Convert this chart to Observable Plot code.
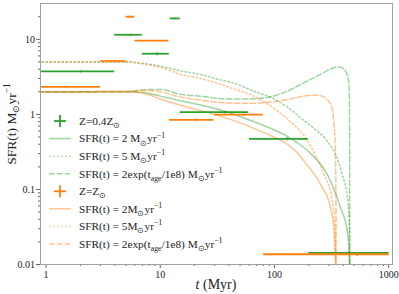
<!DOCTYPE html>
<html><head><meta charset="utf-8">
<script src="https://cdn.jsdelivr.net/npm/d3@7"></script>
<script src="https://cdn.jsdelivr.net/npm/@observablehq/plot@0.6"></script>
<style>body{margin:0;background:#fff}</style>
</head><body><div id="chart"></div>
<script>
// ---- axis ticks ----
const xMajor = [1, 10, 100, 1000];
const xTickLabels = ["1", "10", "100", "1000"];
const xMinor = [2,3,4,5,6,7,8,9,20,30,40,50,60,70,80,90,200,300,400,500,600,700,800,900];
const yMajor = [0.01, 0.1, 1, 10];
const yTickLabels = ["0.01", "0.1", "1", "10"];
const yMinor = [0.02,0.03,0.04,0.05,0.06,0.07,0.08,0.09,0.2,0.3,0.4,0.5,0.6,0.7,0.8,0.9,2,3,4,5,6,7,8,9,20];

// ---- error-bar data: Z = 0.4 Zsun (green) ----
const greenX    = [2.0, 5.46, 9.4, 13.4, 36.9, 128.6, 450];
const greenXmin = [0.85, 3.95, 6.9, 12.1, 14.8, 59.9, 198];
const greenXmax = [3.95, 6.9, 11.9, 14.8, 59, 196, 1000];
const greenY    = [3.74, 11.5, 6.43, 19.0, 1.07, 0.473, 0.0143];
const greenYerr = [0.12, 0.4, 0.3, 0.6, 0.045, 0.022, 0.0007];

// ---- error-bar data: Z = Zsun (orange) ----
const orangeX    = [1.49, 3.95, 8.4, 5.42, 20.8, 54, 531];
const orangeXmin = [0.85, 2.98, 5.96, 4.97, 11.95, 29.6, 79.4];
const orangeXmax = [2.97, 4.93, 11.8, 5.93, 29.2, 78.9, 1000];
const orangeY    = [2.33, 5.14, 9.58, 20.0, 0.847, 0.99, 0.0137];
const orangeYerr = [0.09, 0.0, 0.0, 0.8, 0.035, 0.04, 0.0007];

// ---- model curves (t in Myr, SFR) ----
const gSolidT = [0.85, 5, 7, 10, 15, 22.6, 36, 66, 93, 121, 158, 208, 290, 379, 434, 450, 457];
const gSolidS = [2, 2, 1.96, 1.75, 1.52, 1.33, 1.11, 0.8, 0.65, 0.54, 0.42, 0.3, 0.158, 0.057, 0.028, 0.015, 0.005];
const gDotT = [0.85, 5, 7, 10, 15, 22.6, 34, 41, 66, 93, 130, 169, 230, 290, 350, 392, 439, 452, 457];
const gDotS = [5, 5, 4.8, 4.4, 3.8, 3.4, 2.87, 2.7, 2.04, 1.67, 1.25, 0.9, 0.62, 0.44, 0.27, 0.158, 0.07, 0.034, 0.005];
const gDashT = [0.85, 5, 7, 10, 15, 22.6, 34, 50, 66, 93, 130, 181, 253, 331, 366, 400, 419, 440, 448, 453, 455, 456];
const gDashS = [2, 2.02, 2.12, 2.15, 1.85, 1.75, 1.62, 1.6, 1.61, 1.72, 2.04, 2.64, 3.41, 4.18, 4.27, 4.1, 3.78, 3.1, 2.64, 1.5, 0.5, 0.005];

const oSolidT = [0.85, 5, 7, 10, 15, 22.6, 30, 50, 66, 93, 121, 158, 181, 253, 310, 331, 340, 347];
const oSolidS = [2, 2, 1.93, 1.6, 1.32, 1.12, 1.0, 0.77, 0.65, 0.52, 0.43, 0.31, 0.24, 0.117, 0.057, 0.031, 0.015, 0.005];
const oDotT = [0.85, 5, 7, 10, 15, 22.6, 34, 41, 66, 93, 130, 190, 230, 271, 321, 338, 347];
const oDotS = [5, 5, 4.7, 4.25, 3.41, 3.0, 2.51, 2.26, 1.75, 1.29, 0.86, 0.47, 0.28, 0.16, 0.07, 0.034, 0.005];
const oDashT = [0.85, 5, 7, 10, 15, 22.6, 34, 50, 66, 93, 130, 181, 230, 260, 290, 321, 331, 340, 345, 347];
const oDashS = [2, 2.02, 2.08, 2.0, 1.7, 1.55, 1.43, 1.41, 1.41, 1.46, 1.58, 1.75, 1.81, 1.75, 1.58, 1.16, 0.77, 0.4, 0.1, 0.005];

// ---- labels ----
const greenLabel = "Z=0.4Z_{⊙}";
const orangeLabel = "Z=Z_{⊙}";
const gSolidLabel = "SFR(t) = 2 M_{⊙}yr^{−1}";
const gDotLabel = "SFR(t) = 5 M_{⊙}yr^{−1}";
const gDashLabel = "SFR(t) = 2exp(t_{age}/1e8) M_{⊙}yr^{−1}";
const oSolidLabel = "SFR(t) = 2M_{⊙}yr^{−1}";
const oDotLabel = "SFR(t) = 5M_{⊙}yr^{−1}";
const oDashLabel = "SFR(t) = 2exp(t_{age}/1e8) M_{⊙}yr^{−1}";
const yLabel = "SFR(t) M_{⊙}yr^{−1}";
const xLabel = "*t* (Myr)";

const GREEN = "#2ca02c", ORANGE = "#ff7f0e";
const DOT = "1.5,2.5", DASH = "5.5,2.4";

const rows = (t, s) => t.map((x, i) => ({t: x, s: s[i]}));
const bars = (x, xmin, xmax, y, yerr) => x.map((v, i) => ({x: v, x1: xmin[i], x2: xmax[i], y: y[i], y1: y[i] - yerr[i], y2: y[i] + yerr[i], e: yerr[i]}));

const curves = [
  {d: rows(gSolidT, gSolidS), c: GREEN, dash: null, label: gSolidLabel},
  {d: rows(gDotT, gDotS), c: GREEN, dash: DOT, label: gDotLabel},
  {d: rows(gDashT, gDashS), c: GREEN, dash: DASH, label: gDashLabel},
  {d: rows(oSolidT, oSolidS), c: ORANGE, dash: null, label: oSolidLabel},
  {d: rows(oDotT, oDotS), c: ORANGE, dash: DOT, label: oDotLabel},
  {d: rows(oDashT, oDashS), c: ORANGE, dash: DASH, label: oDashLabel}
];
const gBars = bars(greenX, greenXmin, greenXmax, greenY, greenYerr);
const oBars = bars(orangeX, orangeXmin, orangeXmax, orangeY, orangeYerr);

const barMarks = (data, color) => [
  Plot.link(data, {x1: "x1", x2: "x2", y1: "y", y2: "y", stroke: color, strokeWidth: 1.8, clip: true}),
  Plot.link(data.filter(d => d.e > 0), {x1: "x", x2: "x", y1: "y1", y2: "y2", stroke: color, strokeWidth: 1.3, clip: true})
];

const svg = Plot.plot({
  width: 399, height: 294,
  marginLeft: 40, marginRight: 7, marginTop: 3, marginBottom: 30,
  style: {fontFamily: "Liberation Serif", background: "white", color: "#222"},
  x: {type: "log", domain: [0.895, 1080]},
  y: {type: "log", domain: [0.01, 30]},
  marks: [
    ...curves.map(k => Plot.line(k.d, {x: "t", y: "s", stroke: k.c, strokeOpacity: 0.45, strokeWidth: 1.5,
        strokeDasharray: k.dash ?? undefined, curve: "monotone-x", clip: true})),
    ...barMarks(gBars, GREEN),
    ...barMarks(oBars, ORANGE),
    Plot.axisX({ticks: xMajor, tickFormat: d => xTickLabels[xMajor.indexOf(d)], tickSize: 4, tickPadding: 2, fontSize: 10, label: null, stroke: "#666", fill: "#222"}),
    Plot.axisX({ticks: xMinor, tickFormat: () => "", tickSize: 2, label: null, stroke: "#666"}),
    Plot.axisY({ticks: yMajor, tickFormat: d => yTickLabels[yMajor.indexOf(d)], tickSize: 4, tickPadding: 1.5, fontSize: 10, label: null, stroke: "#666", fill: "#222"}),
    Plot.axisY({ticks: yMinor, tickFormat: () => "", tickSize: 2, label: null, stroke: "#666"}),
    Plot.frame({stroke: "#a0a0a0"})
  ]
});
document.getElementById("chart").appendChild(svg);

// ---- rich text helper (sub/superscripts, italics) ----
function rich(textSel, str, fs) {
  let cur = 0;
  const re = /([_^])\{([^}]*)\}|\*([^*]+)\*|([^_^*]+)/g; let m;
  while ((m = re.exec(str)) !== null) {
    let target = 0, txt, size = fs, italic = false;
    if (m[1]) { target = m[1] === "_" ? 0.28 * fs : -0.42 * fs; txt = m[2]; size = 0.7 * fs; }
    else if (m[3]) { txt = m[3]; italic = true; }
    else txt = m[4];
    const ts = textSel.append("tspan").attr("font-size", size).attr("dy", target - cur).text(txt);
    if (italic) ts.attr("font-style", "italic");
    cur = target;
  }
}

const root = d3.select(svg);
const FF = "Liberation Serif";

// axis labels
const yl = root.append("text").attr("transform", "translate(15.5,124) rotate(-90)")
  .attr("text-anchor", "middle").attr("font-family", FF).attr("fill", "#222");
rich(yl, yLabel, 13.5);
const xl = root.append("text").attr("x", 216).attr("y", 289)
  .attr("text-anchor", "middle").attr("font-family", FF).attr("fill", "#222");
rich(xl, xLabel, 14);

// legend
const legendEntries = [
  {kind: "bar", c: GREEN, label: greenLabel},
  curves[0], curves[1], curves[2],
  {kind: "bar", c: ORANGE, label: orangeLabel},
  curves[3], curves[4], curves[5]
];
const lg = root.append("g");
legendEntries.forEach((e, i) => {
  const cy = 121 + i * 17.57;
  if (e.kind === "bar") {
    lg.append("line").attr("x1", 54).attr("x2", 66).attr("y1", cy).attr("y2", cy).attr("stroke", e.c).attr("stroke-width", 1.8);
    lg.append("line").attr("x1", 60).attr("x2", 60).attr("y1", cy - 6).attr("y2", cy + 6).attr("stroke", e.c).attr("stroke-width", 1.8);
  } else {
    const ln = lg.append("line").attr("x1", 49).attr("x2", 71).attr("y1", cy).attr("y2", cy)
      .attr("stroke", e.c).attr("stroke-opacity", 0.45).attr("stroke-width", 1.5);
    if (e.dash) ln.attr("stroke-dasharray", e.dash);
  }
  const t = lg.append("text").attr("x", 79).attr("y", cy + 3.8).attr("text-anchor", "start")
    .attr("font-family", FF).attr("fill", "#222");
  rich(t, e.label, 11.3);
});
</script></body></html>
